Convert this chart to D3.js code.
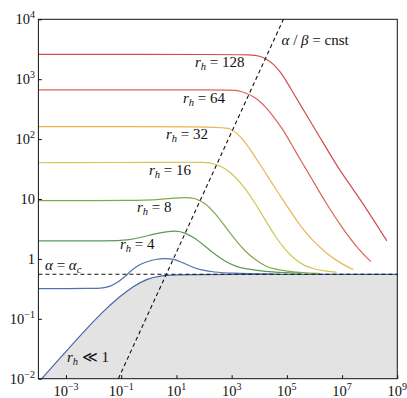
<!DOCTYPE html>
<html><head><meta charset="utf-8">
<script src="https://cdn.jsdelivr.net/npm/d3@7"></script>
<style>
body{margin:0;background:#fff}
svg{display:block}
svg text{font-family:"Liberation Serif","Times New Roman",Times,"DejaVu Serif",serif;fill:#111}
</style>
</head><body><svg id="c" width="407" height="398" font-family="Liberation Serif, DejaVu Serif, serif"></svg>
<script>
// ---- data ----
const xTicks = [1e-3, 1e-1, 1e1, 1e3, 1e5, 1e7, 1e9];
const xTickExp = ["\u22123", "\u22121", "1", "3", "5", "7", "9"];
const yTicks = [1e-2, 1e-1, 1, 10, 1e2, 1e3, 1e4];
const yTickBase = ["10", "10", "1", "10", "10", "10", "10"];
const yTickExp = ["\u22122", "\u22121", "", "", "2", "3", "4"];

const alphaC = 0.553;
const alphaBetaLine = [[0.0785, 0.01], [7.5e4, 1e4]];

const rhSmall = [[1.32e-4,0.01],[7.98e-4,0.0254],[4.24e-3,0.0598],[0.0224,0.134],[0.0906,0.238],[0.274,0.349],[0.839,0.465],[2.55,0.521],[10.3,0.541],[100,0.551],[1e9,0.553]];
const rh2 = [[1e-4,0.32],[0.01,0.32],[0.0224,0.327],[0.0398,0.347],[0.0708,0.398],[0.126,0.49],[0.224,0.631],[0.398,0.776],[0.794,0.891],[1.78,0.989],[3.86,1.023],[7.08,1.0],[13.5,0.912],[31.1,0.759],[71.6,0.653],[217,0.6],[1150,0.575],[1e4,0.562],[3.98e4,0.558]];
const rh4 = [[1e-4,2.0],[0.05,2.0],[0.158,2.04],[0.632,2.33],[2.55,2.77],[10.3,3.0],[20.5,2.71],[47.2,2.24],[108.7,1.62],[251,1.18],[577,0.912],[1330,0.753],[3060,0.681],[1.62e4,0.614],[8.61e4,0.592],[3.16e5,0.575]];
const rh8 = [[1e-4,9.38],[0.48,9.38],[2.55,9.84],[8.89,10.4],[20.5,10.6],[47.2,10.4],[108.7,8.57],[251,5.85],[577,3.49],[1330,2.1],[3060,1.34],[7050,0.973],[1.62e4,0.753],[3.73e4,0.664],[1.98e5,0.598],[4.56e5,0.585],[1.58e6,0.569]];
const rh16 = [[1e-4,40.3],[10,40.9],[108.7,41.4],[251,38.7],[577,32.9],[1330,23.8],[3060,15.2],[7050,8.57],[1.62e4,4.52],[3.73e4,2.38],[8.61e4,1.43],[1.98e5,0.973],[4.56e5,0.753],[1e6,0.676],[2.79e6,0.621],[6.43e6,0.598]];
const rh32 = [[1e-4,162],[380,162],[875,152],[1530,126],[2650,97.2],[4650,67.6],[8110,45.7],[1.41e4,30.9],[2.14e4,22.9],[4.31e4,13.8],[8.61e4,8.51],[1.72e5,5.25],[3.47e5,3.31],[6.93e5,2.24],[2.79e6,1.2],[1.11e7,0.794],[2.56e7,0.664]];
const rh64 = [[1e-4,664],[1000,664],[1530,656],[3520,585],[6110,513],[1.07e4,424],[1.87e4,329],[3.24e4,238],[7.46e4,143],[1.72e5,71.6],[3.96e5,37.3],[6.93e5,24.4],[2.79e6,8.04],[1.11e7,3.08],[4.49e7,1.34],[1.1e8,0.9]];
const rh128 = [[1e-4,2588],[1000,2588],[4645,2570],[1.07e4,2443],[1.87e4,2153],[3.24e4,1799],[5.68e4,1340],[9.9e4,912],[1.72e5,585],[3.96e5,308],[9.12e5,162],[2.1e6,85.7],[4.84e6,45.2],[1e7,26.3],[4.49e7,10],[1.78e8,3.72],[4.17e8,2.0]];

const seriesList = [
  {data: rhSmall, color: "#4a68a8"},
  {data: rh2, color: "#5073aa"},
  {data: rh4, color: "#5b9a57"},
  {data: rh8, color: "#84a84e"},
  {data: rh16, color: "#cfc653"},
  {data: rh32, color: "#ebb552"},
  {data: rh64, color: "#da6458"},
  {data: rh128, color: "#d24c4c"}
];

// ---- layout ----
const L = 38.4, R = 397.3, T = 19.3, B = 378.7;
const svg = d3.select("#c");
const x = d3.scaleLog().domain([1e-4, 1e9]).range([L, R]);
const y = d3.scaleLog().domain([1e-2, 1e4]).range([B, T]);

svg.append("defs").append("clipPath").attr("id","clip")
  .append("rect").attr("x",L).attr("y",T).attr("width",R-L).attr("height",B-T);
const g = svg.append("g").attr("clip-path","url(#clip)");

// gray region under r_h << 1
g.append("path").datum(rhSmall)
  .attr("fill","#e3e3e3")
  .attr("d", d3.area().x(d=>x(d[0])).y0(B).y1(d=>y(d[1])).curve(d3.curveMonotoneX));

const line = d3.line().x(d=>x(d[0])).y(d=>y(d[1])).curve(d3.curveBasis);
seriesList.forEach(s => {
  g.append("path").datum(s.data).attr("fill","none")
    .attr("stroke", s.color).attr("stroke-width",1.2).attr("d", line);
});

// dashed lines
g.append("line").attr("x1",x(1e-4)).attr("x2",x(1e9)).attr("y1",y(alphaC)).attr("y2",y(alphaC))
  .attr("stroke","#111").attr("stroke-width",1.1).attr("stroke-dasharray","4,3");
g.append("line").attr("x1",x(alphaBetaLine[0][0])).attr("y1",y(alphaBetaLine[0][1]))
  .attr("x2",x(alphaBetaLine[1][0])).attr("y2",y(alphaBetaLine[1][1]))
  .attr("stroke","#111").attr("stroke-width",1.1).attr("stroke-dasharray","4,3");

// frame
svg.append("rect").attr("x",L).attr("y",T).attr("width",R-L).attr("height",B-T)
  .attr("fill","none").attr("stroke","#111").attr("stroke-width",1);

// axes: inward ticks
const xAxis = d3.axisBottom(x).tickValues(xTicks).tickSize(-3.5).tickFormat("");
const xa = svg.append("g").attr("transform",`translate(0,${B})`).call(xAxis);
xa.attr("font-family", null);
xa.select(".domain").remove();
xa.selectAll("line").attr("stroke","#111");
const yAxis = d3.axisLeft(y).tickValues(yTicks).tickSize(-3.5).tickFormat("");
const ya = svg.append("g").attr("transform",`translate(${L},0)`).call(yAxis);
ya.attr("font-family", null);
ya.select(".domain").remove();
ya.selectAll("line").attr("stroke","#111");

// tick labels
xTicks.forEach((v,i) => {
  const t = svg.append("text").attr("x", x(v)).attr("y", 396).attr("text-anchor","middle").attr("font-size",14.5);
  t.append("tspan").text("10");
  t.append("tspan").attr("dy",-6).attr("font-size",10).text(xTickExp[i]);
});
yTicks.forEach((v,i) => {
  const t = svg.append("text").attr("x", 35).attr("y", y(v)+5).attr("text-anchor","end").attr("font-size",14.5);
  t.append("tspan").text(yTickBase[i]);
  if (yTickExp[i]) t.append("tspan").attr("dy",-6).attr("font-size",10).text(yTickExp[i]);
});

// annotations
function rhLabel(px, py, val) {
  const t = svg.append("text").attr("x",px).attr("y",py).attr("font-size",15);
  t.append("tspan").attr("font-style","italic").text("r");
  t.append("tspan").attr("font-style","italic").attr("font-size",10.5).attr("dy",3).text("h");
  t.append("tspan").attr("dy",-3).text(" = " + val);
}
rhLabel(195, 66.5, "128");
rhLabel(183, 102.5, "64");
rhLabel(166, 139, "32");
rhLabel(149, 175, "16");
rhLabel(137, 211.5, "8");
rhLabel(120, 249, "4");

const ab = svg.append("text").attr("x",281.5).attr("y",45).attr("font-size",15);
ab.append("tspan").attr("font-style","italic").text("\u03b1");
ab.append("tspan").text(" / ");
ab.append("tspan").attr("font-style","italic").text("\u03b2");
ab.append("tspan").text(" = cnst");

const ac = svg.append("text").attr("x",45).attr("y",270).attr("font-size",15);
ac.append("tspan").attr("font-style","italic").text("\u03b1");
ac.append("tspan").text(" = ");
ac.append("tspan").attr("font-style","italic").text("\u03b1");
ac.append("tspan").attr("font-style","italic").attr("font-size",10.5).attr("dy",3).text("c");

const rs = svg.append("text").attr("x",67).attr("y",361.5).attr("font-size",15);
rs.append("tspan").attr("font-style","italic").text("r");
rs.append("tspan").attr("font-style","italic").attr("font-size",10.5).attr("dy",3).text("h");
rs.append("tspan").attr("dy",-3).text(" \u226a 1");
</script>
</body></html>
